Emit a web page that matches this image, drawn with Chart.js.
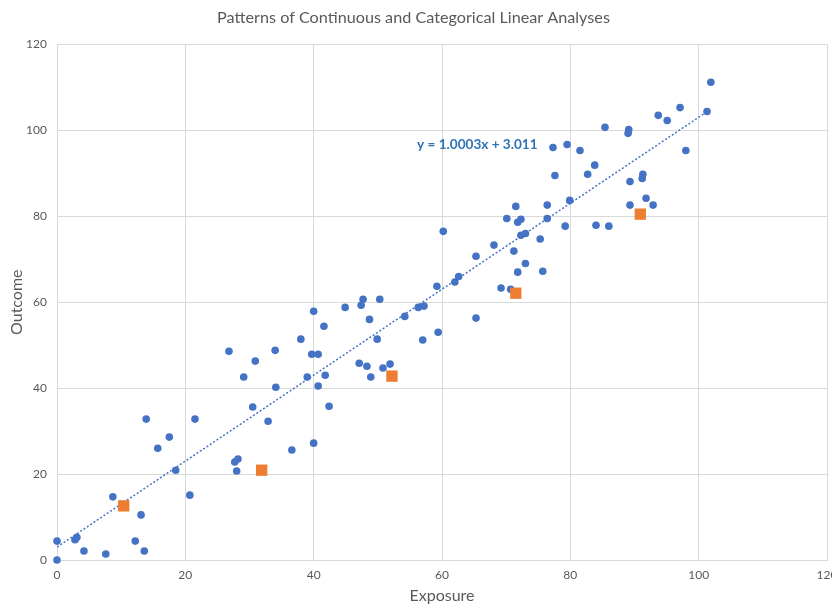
<!DOCTYPE html>
<html>
<head>
<meta charset="utf-8">
<script src="https://cdn.jsdelivr.net/npm/chart.js@4"></script>
<style>
  html, body { margin: 0; padding: 0; background: #fff; overflow: hidden; }
</style>
</head>
<body>
<canvas id="grafica" width="840" height="604"></canvas>
<script>
// continuous observations (blue dots)
const exposure = [
  0, 0, 2.8, 3.1, 4.2, 7.6, 8.7, 12.2, 13.1, 13.6,
  13.9, 15.7, 17.5, 18.5, 20.7, 21.5, 26.8, 27.7, 28.2, 28,
  29.1, 30.5, 30.9, 32.9, 34.1, 34, 36.6, 38, 39, 39.7,
  40, 40, 40.7, 40.7, 41.6, 41.8, 42.4, 44.9, 47.1, 47.4,
  47.7, 48.7, 48.3, 48.9, 49.9, 50.3, 50.8, 51.9, 54.2, 56.3,
  57.2, 57, 59.2, 59.4, 60.2, 62, 62.6, 65.3, 65.3, 68.1,
  69.2, 70.1, 70.7, 71.2, 71.5, 71.8, 71.8, 72.3, 72.3, 73,
  73, 75.3, 75.7, 76.4, 76.4, 77.3, 77.6, 79.2, 79.5, 79.9,
  81.5, 82.7, 83.8, 84, 85.4, 86, 89, 89.1, 89.3, 89.3,
  91.2, 91.3, 91.8, 92.9, 93.7, 95.1, 97.1, 98, 101.3, 101.9
];
const outcome = [
  0, 4.4, 4.7, 5.3, 2.1, 1.4, 14.7, 4.4, 10.5, 2.1,
  32.8, 26, 28.6, 20.9, 15.1, 32.8, 48.6, 22.8, 23.5, 20.7,
  42.6, 35.6, 46.3, 32.3, 40.2, 48.8, 25.6, 51.4, 42.6, 47.9,
  57.9, 27.2, 47.9, 40.5, 54.4, 43, 35.8, 58.8, 45.8, 59.3,
  60.7, 56, 45.1, 42.6, 51.4, 60.7, 44.7, 45.6, 56.7, 58.8,
  59.1, 51.2, 63.7, 53, 76.5, 64.7, 66, 70.7, 56.3, 73.3,
  63.3, 79.5, 63, 71.9, 82.3, 78.6, 67, 79.3, 75.6, 76,
  69, 74.7, 67.2, 82.6, 79.5, 96, 89.5, 77.7, 96.7, 83.7,
  95.3, 89.8, 91.9, 77.9, 100.7, 77.7, 99.3, 100.2, 88.1, 82.6,
  88.8, 89.8, 84.2, 82.6, 103.5, 102.3, 105.3, 95.3, 104.4, 111.2
];

// categorical group means (orange squares)
const catExposure = [10.4, 31.9, 52.2, 71.5, 90.9];
const catOutcome = [12.6, 20.9, 42.8, 62.1, 80.5];

// linear trendline as reported on the chart
const trendSlope = 1.0003;
const trendIntercept = 3.011;
const trendRange = [0, 101.9];

const xTicks = [0, 20, 40, 60, 80, 100, 120];
const yTicks = [0, 20, 40, 60, 80, 100, 120];

const fuente = 'Lato, "Open Sans", sans-serif';
const gris = '#595959';

var puntos = exposure.map((x, i) => ({ x: x, y: outcome[i] }));
var medias = catExposure.map((x, i) => ({ x: x, y: catOutcome[i] }));
var tendencia = trendRange.map(x => ({ x: x, y: trendSlope * x + trendIntercept }));

// writes the trendline equation next to the line
const etiquetaTendencia = {
  id: 'etiquetaTendencia',
  afterDatasetsDraw(chart) {
    const ctx = chart.ctx;
    const px = chart.scales.x.getPixelForValue(56.1);
    const py = chart.scales.y.getPixelForValue(96.7);
    ctx.save();
    ctx.font = 'bold 13.6px ' + fuente;
    ctx.fillStyle = '#2E75B6';
    ctx.textAlign = 'left';
    ctx.textBaseline = 'middle';
    ctx.fillText('y = ' + trendSlope.toFixed(4) + 'x + ' + trendIntercept.toFixed(3), px, py);
    ctx.restore();
  }
};

const myChart = new Chart(document.getElementById('grafica'), {
  type: 'scatter',
  data: {
    datasets: [
      {
        label: 'Categorical',
        data: medias,
        pointStyle: 'rect',
        pointRadius: 8,
        backgroundColor: '#ED7D31',
        borderColor: '#ED7D31',
        borderWidth: 0,
        clip: false,
        order: 1
      },
      {
        label: 'Linear (Continuous)',
        type: 'line',
        data: tendencia,
        borderColor: '#4472C4',
        borderWidth: 1.5,
        borderDash: [2, 2],
        pointRadius: 0,
        fill: false,
        order: 2
      },
      {
        label: 'Continuous',
        data: puntos,
        pointStyle: 'circle',
        pointRadius: 3.8,
        backgroundColor: '#4472C4',
        borderColor: '#4472C4',
        borderWidth: 0,
        clip: false,
        order: 3
      }
    ]
  },
  options: {
    responsive: false,
    animation: false,
    layout: { padding: { left: 0, right: 13, top: 0, bottom: 0 } },
    plugins: {
      legend: { display: false },
      tooltip: { enabled: false },
      title: {
        display: true,
        text: 'Patterns of Continuous and Categorical Linear Analyses',
        color: gris,
        font: { family: fuente, size: 16.2, weight: 'normal', lineHeight: 1.2 },
        padding: { top: 8, bottom: 17 }
      }
    },
    scales: {
      x: {
        type: 'linear',
        min: 0,
        max: 120,
        afterBuildTicks: axis => { axis.ticks = xTicks.map(v => ({ value: v })); },
        afterFit: axis => { axis.height = 44; axis.paddingLeft = 0; axis.paddingRight = 0; },
        grid: { color: '#d9d9d9', drawTicks: false },
        border: { color: '#d9d9d9' },
        ticks: { color: gris, padding: 8, font: { family: fuente, size: 12 } },
        title: {
          display: true,
          text: 'Exposure',
          color: gris,
          font: { family: fuente, size: 16, lineHeight: 1 },
          padding: { top: 0, bottom: 0 }
        }
      },
      y: {
        type: 'linear',
        min: 0,
        max: 120,
        afterBuildTicks: axis => { axis.ticks = yTicks.map(v => ({ value: v })); },
        afterFit: axis => { axis.width = 57; },
        grid: { color: '#d9d9d9', drawTicks: false },
        border: { color: '#d9d9d9' },
        ticks: { color: gris, padding: 10, font: { family: fuente, size: 12 } },
        title: {
          display: true,
          text: 'Outcome',
          color: gris,
          font: { family: fuente, size: 16, lineHeight: 1 },
          padding: { top: 9, bottom: 0 }
        }
      }
    }
  },
  plugins: [etiquetaTendencia]
});
</script>
</body>
</html>
